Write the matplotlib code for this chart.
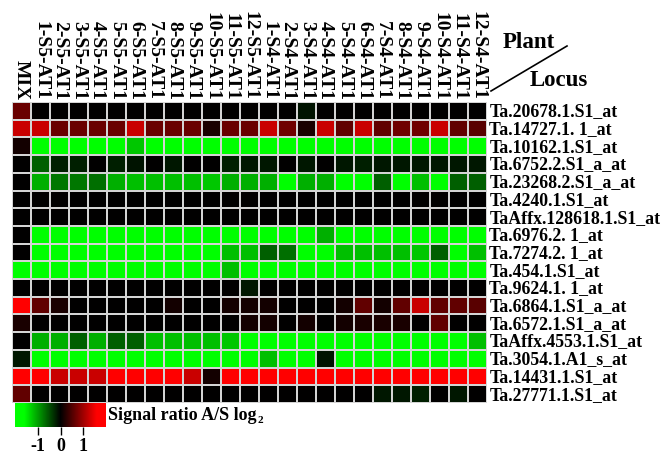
import numpy as np
import matplotlib
matplotlib.use('Agg')
from matplotlib import pyplot as plt
from matplotlib.colors import LinearSegmentedColormap, Normalize

plt.rcParams['font.family'] = ['Liberation Serif', 'DejaVu Serif']
plt.rcParams['font.weight'] = 'bold'

columns = ['MIX'] + ['%d-S5-AT1' % i for i in range(1, 13)] + ['%d-S4-AT1' % i for i in range(1, 13)]

loci = ['Ta.20678.1.S1_at', 'Ta.14727.1. 1_at', 'Ta.10162.1.S1_at', 'Ta.6752.2.S1_a_at',
        'Ta.23268.2.S1_a_at', 'Ta.4240.1.S1_at', 'TaAffx.128618.1.S1_at', 'Ta.6976.2. 1_at',
        'Ta.7274.2. 1_at', 'Ta.454.1.S1_at', 'Ta.9624.1. 1_at', 'Ta.6864.1.S1_a_at',
        'Ta.6572.1.S1_a_at', 'TaAffx.4553.1.S1_at', 'Ta.3054.1.A1_s_at', 'Ta.14431.1.S1_at',
        'Ta.27771.1.S1_at']

# log2 signal ratio A/S, one list per locus: MIX, S5 1..12, S4 1..12
mix = [0.65, 1.25, 0.12, 0, 0, 0, 0, 0, 0, -1.8, 0, 1.8, 0.15, 0, -0.15, 1.8, 0.6]

s5 = [
    [0, 0, 0, 0, 0, 0, 0, 0, 0, 0, 0, 0],
    [1.25, 0.65, 0.65, 0.65, 0.65, 1.25, 0.65, 0.65, 0.65, 0.15, 0.65, 0.65],
    [-1.8, -1.8, -1.8, -1.8, -1.8, -1.25, -1.8, -1.8, -1.8, -1.8, -1.8, -1.8],
    [-0.6, -0.2, -0.2, 0, -0.2, -0.12, 0, -0.15, 0, 0, -0.2, -0.15],
    [-1.1, -0.75, -0.75, -0.7, -1.1, -1.2, -1.2, -1.2, -1.2, -1.25, -1.1, -1.1],
    [0, 0, 0, 0, 0, 0, 0, 0, 0, 0, 0, 0],
    [0, 0, 0, 0, 0, 0, 0, 0, 0, 0, 0, 0],
    [-1.8, -1.8, -1.8, -1.8, -1.8, -1.8, -1.8, -1.8, -1.8, -1.8, -1.8, -1.8],
    [-1.8, -1.8, -1.8, -1.8, -1.8, -1.8, -1.8, -1.8, -1.8, -1.8, -1.2, -1.2],
    [-1.8, -1.8, -1.8, -1.8, -1.8, -1.8, -1.8, -1.8, -1.8, -1.8, -1.2, -1.8],
    [0, 0, 0, 0, 0, 0, 0, 0, 0, 0, 0, -0.15],
    [0.6, 0.15, 0, 0, 0, 0, 0, 0.12, 0, 0, 0.12, 0.12],
    [0, 0, 0, 0, 0, 0, 0, 0, 0, 0, 0, 0.12],
    [-1.1, -1.1, -0.6, -1.1, -0.6, -0.6, -1.2, -1.2, -1.2, -1.2, -1.25, -1.8],
    [-1.8, -1.8, -1.8, -1.8, -1.8, -1.8, -1.8, -1.8, -1.8, -1.8, -1.8, -1.8],
    [1.8, 1.25, 1.25, 1.25, 1.8, 1.8, 1.8, 1.8, 1.25, 0.12, 1.8, 1.8],
    [0, 0, 0, 0, 0, 0, 0, 0, 0, 0, 0, 0],
]

s4 = [
    [0, 0, -0.12, 0, 0, 0, 0, 0, 0, 0, 0, 0],
    [1.25, 0.7, 0.15, 1.25, 0.6, 1.25, 0.6, 0.7, 0.7, 1.25, 0.6, 0.55],
    [-1.8, -1.8, -1.8, -1.8, -1.8, -1.8, -1.8, -1.8, -1.8, -1.8, -1.8, -1.8],
    [-0.15, 0, -0.15, 0, -0.15, -0.2, -0.15, -0.15, -0.15, -0.15, -0.15, -0.15],
    [-1.1, -1.8, -1.1, -1.1, -1.8, -1.8, -0.6, -1.8, -1.2, -1.8, -0.6, -0.6],
    [0, 0, 0, 0, 0, 0, 0, 0, 0, 0, 0, 0],
    [0, 0, 0, 0, 0, 0, 0, 0, 0, 0, 0, 0],
    [-1.8, -1.8, -1.8, -1.1, -1.8, -1.8, -1.8, -1.8, -1.8, -1.8, -1.8, -1.8],
    [-0.6, -0.7, -1.8, -1.8, -1.2, -1.2, -1.2, -1.2, -1.25, -0.6, -1.8, -1.2],
    [-1.8, -1.8, -1.8, -1.8, -1.8, -1.8, -1.8, -1.8, -1.8, -1.8, -1.8, -1.8],
    [0, 0, 0, 0, 0, 0, 0, 0, 0, 0, 0, 0],
    [0.12, 0, 0, 0, 0.12, 0.6, 0.12, 0.6, 1.25, 0.6, 0.6, 0.55],
    [0.12, 0, 0.12, 0, 0.12, 0.15, 0.15, 0.15, 0, 0.6, 0, 0],
    [-1.8, -1.8, -1.8, -1.8, -1.8, -1.8, -1.8, -1.8, -1.8, -1.8, -1.8, -1.2],
    [-1.2, -1.8, -1.8, -0.12, -1.8, -1.8, -1.8, -1.8, -1.8, -1.8, -1.8, -1.8],
    [1.8, 1.8, 1.8, 1.8, 1.8, 1.8, 1.8, 1.8, 1.8, 1.8, 1.8, 1.8],
    [0, 0, 0, 0, 0, 0, -0.15, -0.15, -0.2, 0, -0.15, 0],
]

cbar_ticks = [-1, 0, 1]

data = np.column_stack([np.array(mix), np.array(s5), np.array(s4)])

cmap = LinearSegmentedColormap.from_list('gbr', ['#00ff00', '#000000', '#ff0000'])
norm = Normalize(vmin=-1.6, vmax=1.6, clip=True)

W, H = 672, 456
fig = plt.figure(figsize=(W / 100, H / 100), dpi=100)

# heatmap
ax = fig.add_axes([12 / W, 1 - 404 / H, 475 / W, 301 / H])
ax.pcolormesh(data, cmap=cmap, norm=norm, edgecolors='#d4d4d4', linewidth=1.2)
ax.set_xlim(0, data.shape[1])
ax.set_ylim(data.shape[0], 0)
ax.axis('off')

for j, name in enumerate(columns):
    ax.text(j + 0.5, -0.15, name, rotation=270, ha='center', va='bottom',
            fontsize=14, fontweight='bold')
for i, name in enumerate(loci):
    ax.text(data.shape[1] + 0.12, i + 0.5, name, ha='left', va='center',
            fontsize=12.8, fontweight='bold')

fig.text(503 / W, 1 - 43 / H, 'Plant', fontsize=16.5, fontweight='bold', ha='left', va='center')
fig.text(530 / W, 1 - 81 / H, 'Locus', fontsize=16.5, fontweight='bold', ha='left', va='center')
fig.add_artist(plt.Line2D([491 / W, 567 / W], [1 - 92 / H, 1 - 47 / H], color='black', lw=1.2))

# colour key
cax = fig.add_axes([15 / W, 1 - 428 / H, 91 / W, 24 / H])
grad = np.linspace(-2, 2, 256)[None, :]
cax.imshow(grad, cmap=cmap, norm=norm, aspect='auto', extent=[-2, 2, 0, 1])
cax.set_xlim(-2, 2)
cax.set_yticks([])
for s in cax.spines.values():
    s.set_visible(False)
cax.set_xticks(cbar_ticks)
cax.set_xticklabels([str(t) for t in cbar_ticks], fontsize=13, fontweight='bold')
cax.tick_params(axis='x', length=6, width=1, pad=1)
fig.text(108 / W, 1 - 416 / H, 'Signal ratio A/S log', fontsize=13,
         fontweight='bold', ha='left', va='center')
fig.text(257 / W, 1 - 421 / H, '2', fontsize=8, fontweight='bold', ha='left', va='center')

fig.savefig('out.png', dpi=100)
